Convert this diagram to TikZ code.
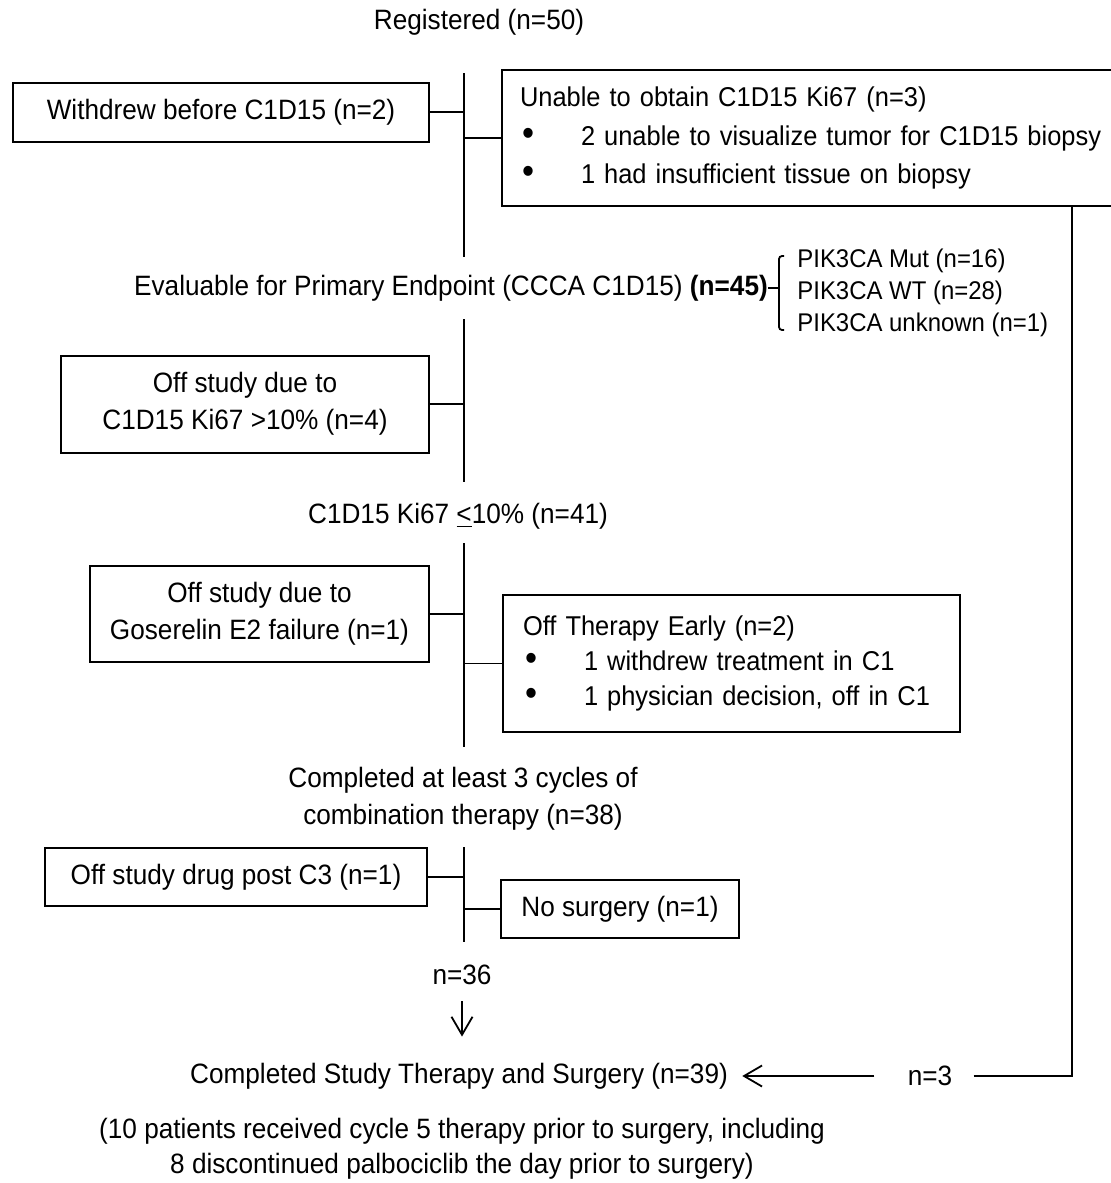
\documentclass[tikz,border=0pt]{standalone}
\usepackage{fontspec}
\setmainfont{Liberation Sans}[FakeStretch = 0.935]
\usetikzlibrary{arrows.meta, positioning}

\newcommand{\bul}{\makebox[30.5pt][l]{\hspace{1pt}\scalebox{1.35}{•}}}

\begin{document}
\begin{tikzpicture}[x = 0.5pt, y = -0.5pt, > = {Straight Barb[length = 9pt, width = 10.5pt]},
	font = \fontsize{14}{18}\selectfont,
	box/.style = {rectangle, draw, line width = 1pt, inner sep = 0pt, align = center},
	list/.style = {box, align = left, inner xsep = 9pt},
	lbl/.style = {inner sep = 0pt, align = center},
	spine/.style = {line width = 1.4pt},
	branch/.style = {line width = 0.9pt}]

	\useasboundingbox (0, 0) rectangle (1111, 1183);

	% Stages down the middle

	\node[lbl] (reg) at (479, 22) {Registered (n=50)};
	\node[lbl] (eval) at (451, 288) {Evaluable for Primary Endpoint (CCCA C1D15) \textbf{(n=45)}};
	\node[lbl] (low) at (458, 516) {C1D15 Ki67 \underline{<}10\% (n=41)};
	\node[lbl, font = \fontsize{14}{18.5}\selectfont] (cyc) at (463, 799) {Completed at least 3 cycles of\\combination therapy (n=38)};
	\node[lbl] (n36) at (462, 975) {n=36};
	\node[lbl] (done) at (459, 1076) {Completed Study Therapy and Surgery (n=39)};
	\node[lbl, font = \fontsize{14}{17.5}\selectfont] (note) at (462, 1149) {(10 patients received cycle 5 therapy prior to surgery, including\\8 discontinued palbociclib the day prior to surgery)};

	% Boxes for patients leaving

	\node[box, minimum width = 208pt, minimum height = 29.5pt] (wd) at (221, 112) {Withdrew before C1D15 (n=2)};
	\node[list, font = \fontsize{13.6}{19.2}\selectfont, text width = 330pt, minimum height = 68pt] (ua) at (850, 138) {Unable to obtain C1D15 Ki67 (n=3)\\\bul 2 unable to visualize tumor for C1D15 biopsy\\\bul 1 had insufficient tissue on biopsy};
	\node[box, minimum width = 184pt, minimum height = 48.5pt, font = \fontsize{14}{18.5}\selectfont] (os1) at (245, 404) {Off study due to\\C1D15 Ki67 >10\% (n=4)};
	\node[box, minimum width = 169.5pt, minimum height = 48pt, font = \fontsize{14}{18.5}\selectfont] (os2) at (259.5, 614) {Off study due to\\Goserelin E2 failure (n=1)};
	\node[list, inner xsep = 10pt, font = \fontsize{13.6}{17.3}\selectfont, text width = 208.5pt, minimum height = 68.5pt] (ot) at (731.5, 663.5) {Off Therapy Early (n=2)\\\bul 1 withdrew treatment in C1\\\bul 1 physician decision, off in C1};
	\node[box, minimum width = 191pt, minimum height = 29pt] (drug) at (236, 877) {Off study drug post C3 (n=1)};
	\node[box, minimum width = 119pt, minimum height = 29pt] (nosurg) at (620, 909) {No surgery (n=1)};

	% PIK3CA split

	\node[lbl, anchor = west, align = left, font = \fontsize{12.8}{16}\selectfont] (pik) at (797, 293) {PIK3CA Mut (n=16)\\PIK3CA WT (n=28)\\PIK3CA unknown (n=1)};
	\coordinate (br) at (779, 293);
	\draw[branch] (eval.east) -- (eval.east -| br);
	\draw[branch, rounded corners = 1.5pt] (784, 256) -- (779, 256) -- (779, 330) -- (784, 330);

	% Main line

	\coordinate (t1) at (464, 73);  \coordinate (b1) at (464, 257);
	\coordinate (t2) at (464, 319); \coordinate (b2) at (464, 482);
	\coordinate (t3) at (464, 543); \coordinate (b3) at (464, 747);
	\coordinate (t4) at (464, 847); \coordinate (b4) at (464, 942);
	\foreach \i in {1, ..., 4}
		\draw[spine] (t\i) -- (b\i);

	\draw[branch] (wd.east) -- (wd.east -| t1);
	\draw[branch] (ua.west) -- (ua.west -| t1);
	\draw[branch] (os1.east) -- (os1.east -| t2);
	\draw[branch] (os2.east) -- (os2.east -| t3);
	\draw[branch] (ot.west) -- (ot.west -| t3);
	\draw[branch] (drug.east) -- (drug.east -| t4);
	\draw[branch] (nosurg.west) -- (nosurg.west -| t4);

	% Arrows into the last stage

	\node[lbl] (n3) at (930, 1076) {n=3};
	\coordinate (rc) at (1072, 1076);
	\draw[branch, shorten <= 10.5pt] (n3) -- (rc) -- (ua.south -| rc);
	\draw[branch, ->, shorten <= 16.5pt, shorten >= 7pt] (n3) -- (done);
	\draw[branch, ->, shorten <= 8pt, shorten >= 13pt] (n36.south) -- (n36.south |- done.north);

\end{tikzpicture}
\end{document}
